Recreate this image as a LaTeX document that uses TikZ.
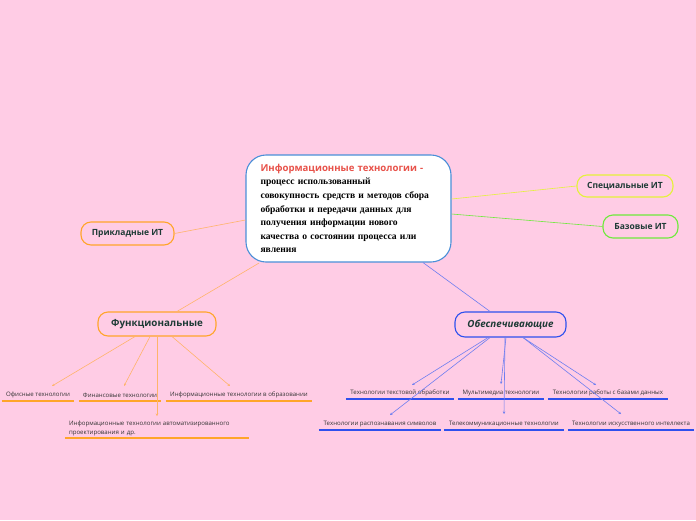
\documentclass[tikz,border=0pt]{standalone}
\usepackage{fontspec}
\setmainfont{Liberation Serif}
\newfontfamily\osans{Open Sans}
\usetikzlibrary{calc,arrows.meta}
\definecolor{bg}{HTML}{FFCCE5}
\definecolor{cblue}{HTML}{4A8FD8}
\definecolor{titlered}{HTML}{E8524A}
\definecolor{nodetext}{HTML}{1E3B36}
\definecolor{leafgray}{HTML}{333333}
\definecolor{oborder}{HTML}{FFA52A}
\definecolor{oline}{HTML}{FFB46A}
\definecolor{yborder}{HTML}{E4F23A}
\definecolor{gborder}{HTML}{6EEA3C}
\definecolor{bborder}{HTML}{2E50EE}
\definecolor{bline}{HTML}{6E7EF0}
\begin{document}
\begin{tikzpicture}[x=1pt,y=-1pt,
  topic/.style={draw, line width=1.1pt, rounded corners=10pt, fill=bg, text=nodetext,
    font=\osans\bfseries\fontsize{8.5}{10}\selectfont, inner sep=0pt},
  leaf/.style={font=\osans\fontsize{6.1}{9}\selectfont, text=leafgray, inner xsep=0pt, inner ysep=3pt, anchor=south},
  oul/.style={draw=oborder, line width=1.4pt},
  bul/.style={draw=bborder, line width=1.4pt},
  olink/.style={draw=oline, line width=0.6pt},
  blink/.style={draw=bline, line width=0.6pt},
  tip/.style={-{Stealth[length=2.5pt,width=2.5pt]}}
]
\fill[bg] (0,0) rectangle (696,520);
\useasboundingbox (0,0) rectangle (696,520);

% central node
\node[draw=cblue, line width=1.1pt, fill=white, rounded corners=20pt,
  minimum width=205, minimum height=107, text width=176, align=left, inner sep=0pt,
  font=\fontsize{9.6}{13.6}\selectfont] (c) at (348.5,208.5)
  {{\osans\bfseries\color{titlered}Информационные технологии -}\\
  \bfseries процесс использованный\\
  совокупность средств и методов сбора\\
  обработки и передачи данных для\\
  получения информации нового\\
  качества о состоянии процесса или\\
  явления};

% first-level nodes
\node[topic, draw=oborder, minimum width=93, minimum height=23] (p) at (127.5,233.5) {Прикладные ИТ};
\node[topic, draw=yborder, minimum width=96, minimum height=22] (s) at (625,186) {Специальные ИТ};
\node[topic, draw=gborder, minimum width=75, minimum height=23] (g) at (640.5,226.5) {Базовые ИТ};
\node[topic, draw=oborder, minimum width=118, minimum height=24, font=\osans\bfseries\fontsize{9.8}{11}\selectfont] (f) at (157,324) {Функциональные};
\node[topic, draw=bborder, minimum width=111, minimum height=25, font=\osans\bfseries\itshape\fontsize{9.8}{11}\selectfont] (b) at (510.5,324.5) {Обеспечивающие};

% links from the centre
\draw[olink, draw=oline] ($(c.west)+(0,11.5)$) -- (p.east);
\draw[olink, draw=yborder] ($(c.east)+(0,-9.5)$) -- (s.west);
\draw[olink, draw=gborder] ($(c.east)+(0,5.5)$) -- (g.west);
\draw[olink] ($(c.south)+(-89.5,0.5)$) -- ($(f.north)+(20,0)$);
\draw[blink] ($(c.south)+(74.5,0)$) -- ($(b.north)+(-20.5,0)$);

% leaves of "Функциональные"
\node[leaf, minimum width=72] (o1) at (38,401) {Офисные технологии};
\node[leaf, minimum width=82] (o2) at (120,401) {Финансовые технологии};
\node[leaf, minimum width=146] (o3) at (239,401) {Информационные технологии в образовании};
\node[leaf, minimum width=184, text width=176, inner xsep=4pt, inner ysep=1.5pt, align=left] (o4) at (157,438)
  {Информационные технологии автоматизированного\\проектирования и др.};
\foreach \n in {o1,o2,o3,o4} \draw[oul] (\n.south west) -- (\n.south east);
\draw[olink, tip] ($(f.south)+(-22,0)$) -- ($(o1.south)+(14,-15)$);
\draw[olink, tip] ($(f.south)+(-7,0)$) -- ($(o2.south)+(4,-15)$);
\draw[olink, tip] ($(f.south)+(15,0)$) -- ($(o3.south)+(-9,-15)$);
\draw[olink, tip] (f.south) -- ($(o4.south)+(0,-22)$);

% leaves of "Обеспечивающие"
\node[leaf, minimum width=108] (b1) at (400,399) {Технологии текстовой обработки};
\node[leaf, minimum width=86] (b2) at (501,399) {Мультимедиа технологии};
\node[leaf, minimum width=120] (b3) at (608,399) {Технологии работы с базами данных};
\node[leaf, minimum width=122] (b4) at (380,430) {Технологии распознавания символов};
\node[leaf, minimum width=120] (b5) at (504,430) {Телекоммуникационные технологии};
\node[leaf, minimum width=126] (b6) at (631,430) {Технологии искусственного интеллекта};
\foreach \n in {b1,b2,b3,b4,b5,b6} \draw[bul] (\n.south west) -- (\n.south east);
\draw[blink, tip] ($(b.south)+(-22.5,0)$) -- ($(b1.south)+(12,-14)$);
\draw[blink, tip] ($(b.south)+(-4.5,0)$) -- ($(b2.south)+(0,-15)$);
\draw[blink, tip] ($(b.south)+(12.5,0)$) -- ($(b3.south)+(-12,-14)$);
\draw[blink, tip] ($(b.south)+(-20.5,0)$) -- ($(b4.south)+(10,-15)$);
\draw[blink, tip] ($(b.south)+(-5.5,0)$) -- ($(b5.south)+(0,-16)$);
\draw[blink, tip] ($(b.south)+(12.5,0)$) -- ($(b6.south)+(-10,-16)$);
\end{tikzpicture}
\end{document}
